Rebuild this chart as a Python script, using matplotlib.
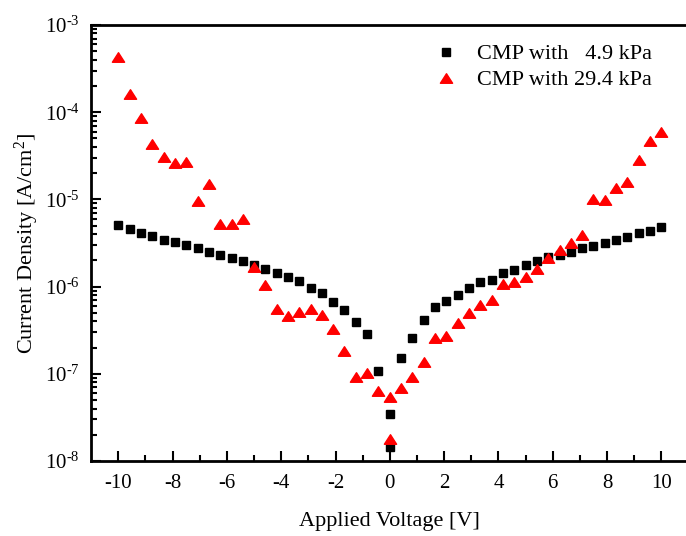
"""Current density vs applied voltage for two CMP pressures (log scale)."""

import numpy as np
import matplotlib
matplotlib.use("Agg")
import matplotlib.pyplot as plt
from matplotlib.path import Path
from matplotlib.ticker import FixedLocator, LogLocator, NullFormatter, FuncFormatter

plt.rcParams['font.family'] = ['Liberation Serif', 'DejaVu Serif']
plt.rcParams['mathtext.fontset'] = 'custom'
plt.rcParams['mathtext.rm'] = 'Liberation Serif'
plt.rcParams['mathtext.it'] = 'Liberation Serif:italic'
plt.rcParams['axes.unicode_minus'] = False

# sweep -10 V -> 0 V, then 0 V -> 10 V (two points at 0 V)
voltage = [-10.0, -9.58, -9.17, -8.75, -8.33, -7.92, -7.5, -7.08, -6.67, -6.25,
           -5.83, -5.42, -5.0, -4.58, -4.17, -3.75, -3.33, -2.92, -2.5, -2.08,
           -1.67, -1.25, -0.83, -0.42, 0.0,
           0.0, 0.42, 0.83, 1.25, 1.67, 2.08, 2.5, 2.92, 3.33, 3.75,
           4.17, 4.58, 5.0, 5.42, 5.83, 6.25, 6.67, 7.08, 7.5, 7.92,
           8.33, 8.75, 9.17, 9.58, 10.0]

j_4p9 = [5.12e-6, 4.52e-6, 4.07e-6, 3.8e-6, 3.47e-6, 3.27e-6, 2.99e-6, 2.79e-6,
         2.47e-6, 2.30e-6, 2.12e-6, 1.98e-6, 1.75e-6, 1.59e-6, 1.42e-6, 1.30e-6,
         1.15e-6, 9.7e-7, 8.5e-7, 6.7e-7, 5.34e-7, 3.93e-7, 2.88e-7, 1.08e-7,
         1.45e-8,
         3.5e-8, 1.53e-7, 2.58e-7, 4.14e-7, 5.84e-7, 6.9e-7, 8.07e-7, 9.6e-7,
         1.13e-6, 1.20e-6, 1.43e-6, 1.57e-6, 1.78e-6, 1.96e-6, 2.18e-6, 2.28e-6,
         2.47e-6, 2.74e-6, 2.94e-6, 3.16e-6, 3.44e-6, 3.73e-6, 4.07e-6, 4.37e-6,
         4.82e-6]

j_29p4 = [4.30e-4, 1.62e-4, 8.6e-5, 4.34e-5, 3.08e-5, 2.65e-5, 2.67e-5, 9.6e-6,
          1.51e-5, 5.16e-6, 5.25e-6, 5.9e-6, 1.70e-6, 1.05e-6, 5.54e-7, 4.6e-7,
          5.07e-7, 5.58e-7, 4.72e-7, 3.26e-7, 1.84e-7, 9.1e-8, 1.02e-7, 6.4e-8,
          1.81e-8,
          5.43e-8, 6.8e-8, 9.1e-8, 1.38e-7, 2.6e-7, 2.69e-7, 3.83e-7, 5.0e-7,
          6.2e-7, 7.1e-7, 1.08e-6, 1.14e-6, 1.30e-6, 1.60e-6, 2.12e-6, 2.6e-6,
          3.13e-6, 3.96e-6, 1.02e-5, 9.8e-6, 1.37e-5, 1.60e-5, 2.82e-5, 4.69e-5,
          5.9e-5]

labels = ['CMP with   4.9 kPa', 'CMP with 29.4 kPa']
x_ticks = [-10, -8, -6, -4, -2, 0, 2, 4, 6, 8, 10]

# flattened triangle marker (wider than tall)
tri = Path([(0, 0.78), (-1, -0.78), (1, -0.78), (0, 0.78)],
           [Path.MOVETO, Path.LINETO, Path.LINETO, Path.CLOSEPOLY])


def decade_label(val, pos):
    # hyphen in the exponent, like the original
    exp = int(round(np.log10(val)))
    return r'$10^{\text{%d}}$' % exp


fig = plt.figure(figsize=(6.86, 5.36), dpi=100)
ax = fig.add_axes([0.1329, 0.1399, 0.8707, 0.8134])

ax.plot(voltage, j_4p9, linestyle='none', marker='s', markersize=6.3,
        color='black', label=labels[0], zorder=3)
ax.plot(voltage, j_29p4, linestyle='none', marker=tri, markersize=8.8,
        color='red', label=labels[1], zorder=4)

ax.set_yscale('log')
ax.set_xlim(-11, 11)
ax.set_ylim(1e-8, 1e-3)

ax.xaxis.set_major_locator(FixedLocator(x_ticks))
ax.xaxis.set_minor_locator(FixedLocator([-9, -7, -5, -3, -1, 1, 3, 5, 7, 9]))
ax.yaxis.set_major_locator(LogLocator(base=10, numticks=10))
ax.yaxis.set_major_formatter(FuncFormatter(decade_label))
ax.yaxis.set_minor_locator(LogLocator(base=10, subs=np.arange(2, 10), numticks=20))
ax.yaxis.set_minor_formatter(NullFormatter())

ax.tick_params(which='both', direction='in', width=1.5, labelsize=15)
ax.tick_params(which='major', length=7)
ax.tick_params(which='minor', length=4)
ax.tick_params(axis='x', pad=9)
ax.tick_params(axis='y', pad=8)
for sp in ax.spines.values():
    sp.set_linewidth(2)

ax.set_xlabel('Applied Voltage [V]', fontsize=16, labelpad=14)
ax.set_ylabel('Current Density [A/cm$^{2}$]', fontsize=16, labelpad=3)

ax.legend(loc='upper left', bbox_to_anchor=(0.575, 0.957), frameon=False,
          fontsize=16, handlelength=1.0, handletextpad=0.9,
          labelspacing=0.25, borderpad=0, borderaxespad=0, markerscale=1.0)

fig.savefig('out.png', dpi=100)
